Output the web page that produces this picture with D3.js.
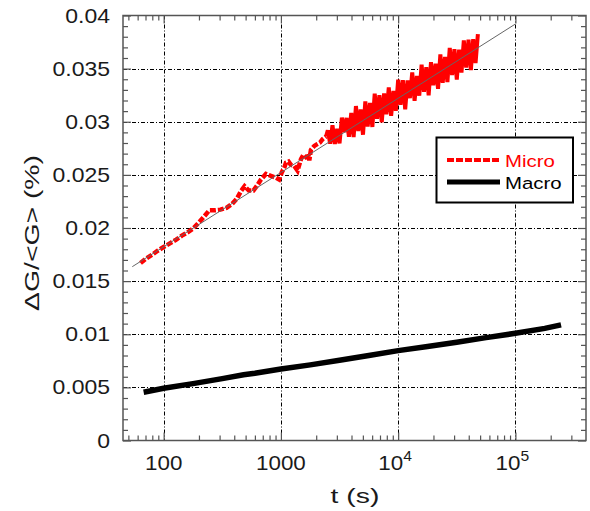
<!DOCTYPE html>
<html><head><meta charset="utf-8">
<script src="https://cdn.jsdelivr.net/npm/d3@7"></script>
<style>body{margin:0;background:#fff} text{font-family:"Liberation Sans",Arial,Helvetica,sans-serif}</style>
</head><body><svg id="c" width="590" height="511"></svg>
<script>
// ---- data ----
const microT = [63.5,70,79.6,89,100,114,128,143,160,179,200,222,245,274,305,343,383,422,456,490,533,583,635,675,745,822,906,966,1019,1074,1104,1161,1216,1300,1387,1483,1560,1637,1722,1746,1803,1928,2056,2153,2270,2427,
2512,2630,2754,2884,3020,3162,3311,3467,3631,3802,3981,4169,4365,4571,4786,5012,5248,5495,5754,6026,6310,6607,6918,7244,7586,7943,8318,8710,9120,9550,10000,10471,10965,11482,12023,12589,13183,13804,14454,15136,15849,16596,17378,18197,19055,19953,20893,21878,22909,23988,25119,26303,27542,28840,30200,31623,33113,34674,36308,38019,39811,41687,43652,45709,47863];
const microV = [0.01670,0.01708,0.01748,0.01786,0.01821,0.01858,0.01890,0.01928,0.01959,0.01997,0.02053,0.02110,0.02167,0.02167,0.02173,0.02189,0.02226,0.02277,0.02346,0.02393,0.02352,0.02352,0.02409,0.02455,0.02509,0.02490,0.02475,0.02457,0.02525,0.02575,0.02615,0.02625,0.02594,0.02585,0.02540,0.02648,0.02690,0.02667,0.02680,0.02635,0.02735,0.02773,0.02792,0.02804,0.02836,0.02861,
0.02920,0.02793,0.02966,0.02790,0.02933,0.02796,0.03039,0.02902,0.03036,0.02859,
0.03082,0.02855,0.03148,0.02912,0.03115,0.02878,0.03191,0.02954,0.03178,0.02951,0.03264,0.03027,0.03250,0.02994,0.03267,0.03070,0.03323,0.03056,0.03290,0.03103,0.03396,0.03159,0.03392,0.03116,0.03389,0.03222,0.03465,0.03198,0.03431,0.03245,0.03538,0.03281,0.03514,0.03248,0.03561,0.03344,0.03547,0.03310,0.03634,0.03367,0.03610,0.03373,0.03696,0.03440,0.03683,0.03396,0.03679,0.03462,0.03766,0.03509,0.03772,0.03485,0.03778,0.03552,0.03825];
const macroT = [67.5,100,178,316,480,600,1000,1780,3160,5620,10000,17800,31600,56200,100000,178000,245000];
const macroV = [0.00454,0.00491,0.00535,0.00582,0.00619,0.00633,0.00673,0.00712,0.00755,0.00800,0.00846,0.00885,0.00925,0.00968,0.01009,0.01055,0.01088];
const fitT = [54, 100000];
const fitV = [0.01636, 0.0392];
const xMajor = [100, 1000, 10000, 100000];
const xLabelMain = ["100", "1000", "10", "10"];
const xLabelSup = ["", "", "4", "5"];
const yMajor = [0, 0.005, 0.01, 0.015, 0.02, 0.025, 0.03, 0.035, 0.04];
const yLabels = ["0", "0.005", "0.01", "0.015", "0.02", "0.025", "0.03", "0.035", "0.04"];
const seriesNames = ["Micro", "Macro"];
const seriesColors = ["#ff0000", "#000000"];

// ---- layout ----
const L = 123, R = 586, T = 15.5, B = 440.5;
const svg = d3.select("#c");
const x = d3.scaleLog().domain([45, 400000]).range([L, R]);
const y = d3.scaleLinear().domain([0, 0.04]).range([B, T]);

// grid
const grid = svg.append("g").attr("stroke", "#000").attr("stroke-width", 1).attr("stroke-dasharray", "4,2,1,2");
grid.selectAll("line.gx").data(xMajor).join("line")
  .attr("x1", d => Math.round(x(d)) + 0.5).attr("x2", d => Math.round(x(d)) + 0.5)
  .attr("y1", T).attr("y2", B);
grid.selectAll("line.gy").data(yMajor.filter(d => d > 0 && d < 0.04)).join("line")
  .attr("y1", d => Math.round(y(d)) + 0.5).attr("y2", d => Math.round(y(d)) + 0.5)
  .attr("x1", L).attr("x2", R);

// minor tick values
const xMinor = [];
for (let p = 10; p <= 100000; p *= 10) for (let m = 2; m <= 9; m++) { const v = p * m; if (v > 45 && v < 400000) xMinor.push(v); }
const yMinor = d3.range(0, 0.0405, 0.001).filter(v => Math.abs(v / 0.005 - Math.round(v / 0.005)) > 1e-6);

const axisColor = "#555";
function styleAxis(g) { g.select(".domain").remove(); g.selectAll("line").attr("stroke", axisColor).attr("stroke-width", 1.2); g.selectAll("text").remove(); }
svg.append("g").attr("transform", `translate(0,${B})`).call(d3.axisBottom(x).tickValues(xMajor).tickSizeInner(-8).tickSizeOuter(0)).call(styleAxis);
svg.append("g").attr("transform", `translate(0,${B})`).call(d3.axisBottom(x).tickValues(xMinor).tickSizeInner(-5).tickSizeOuter(0)).call(styleAxis);
svg.append("g").attr("transform", `translate(0,${T})`).call(d3.axisTop(x).tickValues(xMajor).tickSizeInner(-8).tickSizeOuter(0)).call(styleAxis);
svg.append("g").attr("transform", `translate(0,${T})`).call(d3.axisTop(x).tickValues(xMinor).tickSizeInner(-5).tickSizeOuter(0)).call(styleAxis);
svg.append("g").attr("transform", `translate(${L},0)`).call(d3.axisLeft(y).tickValues(yMajor).tickSizeInner(-8).tickSizeOuter(0)).call(styleAxis);
svg.append("g").attr("transform", `translate(${L},0)`).call(d3.axisLeft(y).tickValues(yMinor).tickSizeInner(-5).tickSizeOuter(0)).call(styleAxis);
svg.append("g").attr("transform", `translate(${R},0)`).call(d3.axisRight(y).tickValues(yMajor).tickSizeInner(-8).tickSizeOuter(0)).call(styleAxis);
svg.append("g").attr("transform", `translate(${R},0)`).call(d3.axisRight(y).tickValues(yMinor).tickSizeInner(-5).tickSizeOuter(0)).call(styleAxis);

// data
const line = d3.line().x(d => x(d[0])).y(d => y(d[1]));
const fitData = fitT.map((t, i) => [t, fitV[i]]);
const microData = microT.map((t, i) => [t, microV[i]]);
const macroData = macroT.map((t, i) => [t, macroV[i]]);
// sparse early part looks dashed; dense late part merges into a solid band
const denseStart = 2427;
svg.append("path").datum(microData.filter(d => d[0] <= denseStart)).attr("d", line).attr("fill", "none")
  .attr("stroke", seriesColors[0]).attr("stroke-width", 4.5).attr("stroke-dasharray", "6,2");
svg.append("path").datum(microData.filter(d => d[0] >= denseStart)).attr("d", line).attr("fill", "none")
  .attr("stroke", seriesColors[0]).attr("stroke-width", 4);
svg.append("path").datum(fitData).attr("d", line).attr("fill", "none")
  .attr("stroke", "#666").attr("stroke-width", 1);
svg.append("path").datum(macroData).attr("d", line).attr("fill", "none")
  .attr("stroke", seriesColors[1]).attr("stroke-width", 5.5);

// frame
svg.append("rect").attr("x", L).attr("y", T).attr("width", R - L).attr("height", B - T)
  .attr("fill", "none").attr("stroke", axisColor).attr("stroke-width", 1.5);

// tick labels
const ylab = svg.append("g").attr("font-size", 20).attr("fill", "#1a1a1a");
yMajor.forEach((v, i) => {
  ylab.append("g").attr("transform", `translate(110,${y(v) + 7}) scale(1.15,1)`)
    .append("text").attr("text-anchor", "end").text(yLabels[i]);
});
const xlab = svg.append("g").attr("font-size", 20).attr("fill", "#1a1a1a");
xMajor.forEach((v, i) => {
  const g = xlab.append("g").attr("transform", `translate(${x(v) - (xLabelSup[i] ? 3 : 0)},470) scale(1.12,1)`);
  const t = g.append("text").attr("text-anchor", "middle");
  t.append("tspan").text(xLabelMain[i]);
  if (xLabelSup[i]) t.append("tspan").attr("font-size", 14).attr("dy", -9).text(xLabelSup[i]);
});

// axis titles
svg.append("g").attr("transform", `translate(355,503) scale(1.35,1)`)
  .append("text").attr("text-anchor", "middle").attr("font-size", 21).attr("fill", "#1a1a1a").text("t (s)");
svg.append("g").attr("transform", `translate(39,233) rotate(-90) scale(1.35,1)`)
  .append("text").attr("text-anchor", "middle").attr("font-size", 21).attr("fill", "#1a1a1a").text("ΔG/<G> (%)");

// legend
const lg = svg.append("g");
lg.append("rect").attr("x", 436.5).attr("y", 137.5).attr("width", 136.5).attr("height", 65)
  .attr("fill", "#fff").attr("stroke", "#000").attr("stroke-width", 2);
seriesNames.forEach((n, i) => {
  const yy = 160 + i * 22;
  lg.append("line").attr("x1", 447).attr("x2", 500).attr("y1", yy).attr("y2", yy)
    .attr("stroke", seriesColors[i]).attr("stroke-width", i === 0 ? 4 : 5)
    .attr("stroke-dasharray", i === 0 ? "7,2" : null);
  lg.append("g").attr("transform", `translate(505,${yy + 7}) scale(1.2,1)`)
    .append("text").attr("font-size", 17).attr("fill", seriesColors[i]).text(n);
});
</script></body></html>
